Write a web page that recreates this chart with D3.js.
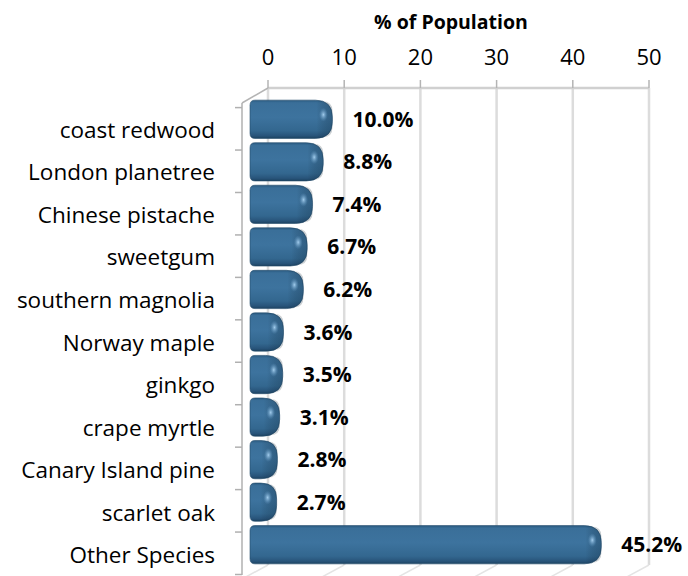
<!DOCTYPE html>
<html>
<head>
<meta charset="utf-8">
<script src="https://cdn.jsdelivr.net/npm/d3@7"></script>
<style>
  html, body { margin: 0; padding: 0; background: #ffffff; }
  svg { display: block; }
</style>
</head>
<body>
<svg id="chart" width="688" height="576"></svg>
<script>
const categories = ["coast redwood", "London planetree", "Chinese pistache", "sweetgum",
  "southern magnolia", "Norway maple", "ginkgo", "crape myrtle", "Canary Island pine",
  "scarlet oak", "Other Species"];
const values = [10.0, 8.8, 7.4, 6.7, 6.2, 3.6, 3.5, 3.1, 2.8, 2.7, 45.2];
const valueLabels = ["10.0%", "8.8%", "7.4%", "6.7%", "6.2%", "3.6%", "3.5%", "3.1%", "2.8%", "2.7%", "45.2%"];
const tickValues = [0, 10, 20, 30, 40, 50];
const axisTitle = "% of Population";

const data = categories.map((c, i) => ({ c, v: values[i], label: valueLabels[i] }));

const svg = d3.select("#chart");
const font = "'Open Sans', 'Noto Sans', sans-serif";

// scales: back wall, bar plane, front wall
const xBack = d3.scaleLinear().domain([0, 50]).range([268, 649]);
const xBar = d3.scaleLinear().domain([0, 50]).range([256, 638]);
const yBar = d3.scaleBand().domain(categories).range([98, 566]).paddingInner(0.1).paddingOuter(0.05);
const yFront = d3.scaleBand().domain(categories).range([107.6, 574.5]);
const backTop = 88, backBottom = 565;
const dx = -26, dy = 14;

// defs
const defs = svg.append("defs");
const g1 = defs.append("linearGradient").attr("id", "barGrad").attr("x1", 0).attr("y1", 0).attr("x2", 0).attr("y2", 1);
[["0%", "#2a5a80"], ["7%", "#3a6f99"], ["45%", "#3d739e"], ["80%", "#33678f"], ["93%", "#28547a"], ["100%", "#1c4260"]]
  .forEach(([o, c]) => g1.append("stop").attr("offset", o).attr("stop-color", c));
const g2 = defs.append("radialGradient").attr("id", "hl");
g2.append("stop").attr("offset", "0%").attr("stop-color", "#a8d2f2").attr("stop-opacity", 0.95);
g2.append("stop").attr("offset", "100%").attr("stop-color", "#5f95c0").attr("stop-opacity", 0);
const g3 = defs.append("linearGradient").attr("id", "capShade").attr("x1", 0).attr("y1", 0).attr("x2", 1).attr("y2", 0);
g3.append("stop").attr("offset", "0%").attr("stop-color", "#000").attr("stop-opacity", 0);
g3.append("stop").attr("offset", "100%").attr("stop-color", "#0d2536").attr("stop-opacity", 0.25);

// back wall gridlines
const grid = svg.append("g");
grid.selectAll("line.v").data(tickValues).join("line")
  .attr("x1", d => xBack(d)).attr("x2", d => xBack(d))
  .attr("y1", backTop).attr("y2", backBottom)
  .attr("stroke", "#dcdcdc").attr("stroke-width", 2.5);
// floor diagonals
grid.selectAll("line.f").data(tickValues).join("line")
  .attr("x1", d => xBack(d)).attr("x2", d => xBack(d) + dx)
  .attr("y1", backBottom).attr("y2", backBottom + dy)
  .attr("stroke", "#e4e4e4").attr("stroke-width", 1.5);
// top edge of back wall
grid.append("line").attr("x1", xBack(0)).attr("x2", xBack(50)).attr("y1", backTop).attr("y2", backTop)
  .attr("stroke", "#d0d0d0").attr("stroke-width", 2.5);
// top axis ticks
grid.selectAll("line.t").data(tickValues).join("line")
  .attr("x1", d => xBack(d)).attr("x2", d => xBack(d))
  .attr("y1", backTop - 8).attr("y2", backTop)
  .attr("stroke", "#b4b4b4").attr("stroke-width", 1.5);

// left wall: diagonal & front axis
grid.append("line").attr("x1", xBack(0)).attr("y1", backTop).attr("x2", xBack(0) + dx).attr("y2", backTop + dy + 1)
  .attr("stroke", "#b4b4b4").attr("stroke-width", 1.5);
grid.append("line").attr("x1", xBack(0) + dx).attr("x2", xBack(0) + dx)
  .attr("y1", backTop + dy + 1).attr("y2", 575)
  .attr("stroke", "#b0b0b0").attr("stroke-width", 1.5);
const frontTicks = categories.map(c => yFront(c)).concat([yFront.range()[1]]);
grid.selectAll("line.ft").data(frontTicks).join("line")
  .attr("x1", xBack(0) + dx - 7).attr("x2", xBack(0) + dx)
  .attr("y1", d => d).attr("y2", d => d)
  .attr("stroke", "#b0b0b0").attr("stroke-width", 1.5);

// tick labels (top)
svg.append("g").selectAll("text").data(tickValues).join("text")
  .attr("x", d => xBack(d)).attr("y", 65)
  .attr("text-anchor", "middle")
  .style("font-family", font).style("font-size", "22px").style("fill", "#000")
  .text(d => d);

// axis title
svg.append("text").attr("x", 451).attr("y", 29)
  .attr("text-anchor", "middle")
  .style("font-family", font).style("font-size", "19.5px").style("font-weight", "bold")
  .text(axisTitle);

// bars
function barPath(x0, x1, t, b, rmax) {
  const w = x1 - x0;
  const rr = Math.min(rmax, w * 0.6);
  const rl = Math.min(5, w * 0.2);
  return `M${x0 + rl},${t} L${x1 - rr},${t} Q${x1},${t} ${x1},${t + rr} L${x1},${b - rr} Q${x1},${b} ${x1 - rr},${b}` +
    ` L${x0 + rl},${b} Q${x0},${b} ${x0},${b - rl} L${x0},${t + rl} Q${x0},${t} ${x0 + rl},${t} Z`;
}
const bars = svg.append("g").selectAll("g").data(data).join("g");
bars.append("path")
  .attr("d", d => barPath(xBar(0) - 6, xBar(d.v), yBar(d.c), yBar(d.c) + yBar.bandwidth(), 17))
  .attr("fill", "url(#barGrad)")
  .attr("stroke", "#22496a").attr("stroke-width", 0.6);
bars.append("path")
  .attr("d", d => {
    const x1 = xBar(d.v), x0 = Math.max(xBar(0) - 6, x1 - 16);
    return barPath(x0, x1, yBar(d.c) + 1, yBar(d.c) + yBar.bandwidth() - 1, 16);
  })
  .attr("fill", "url(#capShade)");
bars.append("ellipse")
  .attr("cx", d => xBar(d.v) - 9).attr("cy", d => yBar(d.c) + yBar.bandwidth() * 0.38)
  .attr("rx", 4.5).attr("ry", 7)
  .attr("fill", "url(#hl)");

// value labels
svg.append("g").selectAll("text").data(data).join("text")
  .attr("x", d => xBar(d.v) + 20)
  .attr("y", d => yBar(d.c) + yBar.bandwidth() / 2 + 7.5)
  .style("font-family", font).style("font-size", "21px").style("font-weight", "bold").style("fill", "#000")
  .text(d => d.label);

// category labels
svg.append("g").selectAll("text").data(data).join("text")
  .attr("x", 215)
  .attr("y", d => yBar(d.c) + yBar.bandwidth() / 2 + 18.5)
  .attr("text-anchor", "end")
  .style("font-family", font).style("font-size", "22.5px").style("fill", "#000")
  .text(d => d.c);
</script>
</body>
</html>
